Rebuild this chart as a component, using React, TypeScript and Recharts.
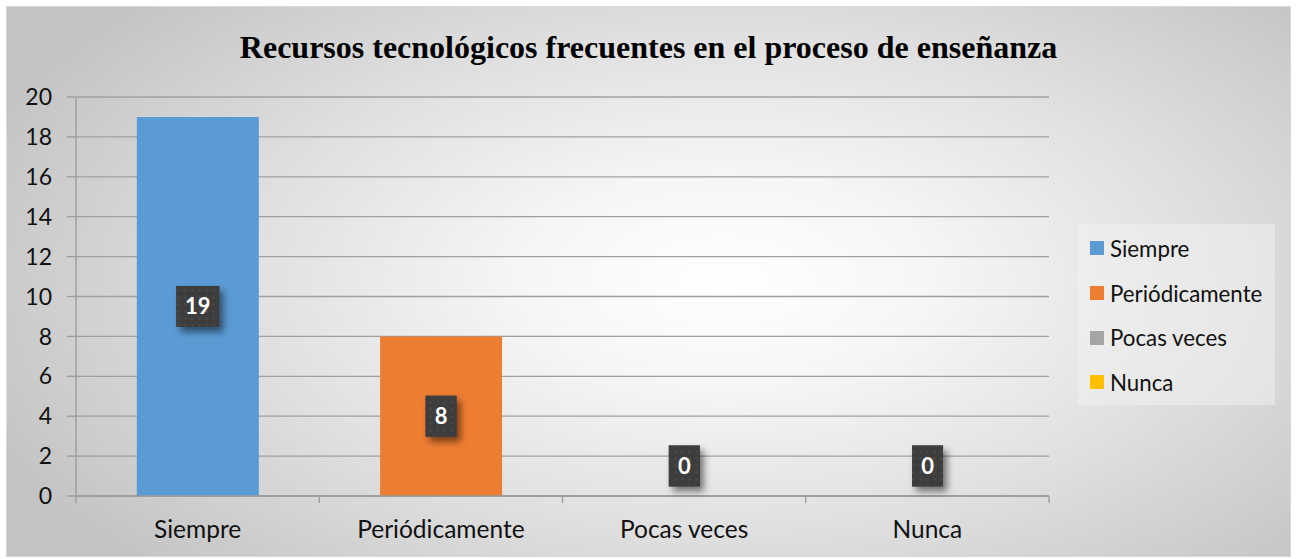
import React from "react";
import { BarChart, Bar, XAxis, YAxis, CartesianGrid, Cell, LabelList, Legend } from "recharts";

const categories = ["Siempre", "Periódicamente", "Pocas veces", "Nunca"];
const values = [19, 8, 0, 0];
const colors = ["#5B9BD5", "#ED7D31", "#A5A5A5", "#FFC000"];
const yTicks = [0, 2, 4, 6, 8, 10, 12, 14, 16, 18, 20];
const title = "Recursos tecnológicos frecuentes en el proceso de enseñanza";

const data = categories.map((name, i) => ({ name, value: values[i] }));

const FONT = "Lato, 'Open Sans', 'Liberation Sans', sans-serif";

const XTick = (props: any) => {
  const { x, y, payload, index } = props;
  const off = payload?.offset ?? 0;
  const last = index === categories.length - 1;
  return (
    <g>
      <line x1={x - off} x2={x - off} y1={y} y2={y + 7} stroke="#9a9a9a" strokeWidth={1.3} />
      {last && <line x1={x + off} x2={x + off} y1={y} y2={y + 7} stroke="#9a9a9a" strokeWidth={1.3} />}
      <text x={x} y={y + 42} textAnchor="middle" fontFamily={FONT} fontSize={24.5} fill="#111">
        {payload.value}
      </text>
    </g>
  );
};

const DataLabel = (props: any) => {
  const vb = props.viewBox || {};
  const x = props.x ?? vb.x;
  const y = props.y ?? vb.y;
  const w = props.width ?? vb.width;
  const h = props.height ?? vb.height;
  const v = props.value;
  const idx = props.index ?? 0;
  const n = String(v).length;
  const bw = 12 * n + 19;
  const bh = 41;
  const cx = x + w / 2;
  const cy = Math.abs(h) < 1 ? y - 30 : y + h / 2;
  const fid = `lblshadow-${idx}`;
  const pid = `lbldots-${idx}`;
  return (
    <g>
      <defs>
        <filter id={fid} x="-50%" y="-50%" width="200%" height="200%">
          <feDropShadow dx={4} dy={5} stdDeviation={3.5} floodColor="#000" floodOpacity={0.5} />
        </filter>
        <pattern id={pid} width={7} height={7} patternUnits="userSpaceOnUse">
          <rect width={7} height={7} fill="#3d3d3d" />
          <circle cx={3.5} cy={3.5} r={1.3} fill="#4a4a4a" />
        </pattern>
      </defs>
      <rect x={cx - bw / 2} y={cy - bh / 2} width={bw} height={bh} fill="#3d3d3d" filter={`url(#${fid})`} />
      <rect x={cx - bw / 2} y={cy - bh / 2} width={bw} height={bh} fill={`url(#${pid})`} />
      <text x={cx} y={cy + 8} textAnchor="middle" fontFamily={FONT} fontWeight="bold" fontSize={22} fill="#fff">
        {v}
      </text>
    </g>
  );
};

const LegendContent = () => (
  <div
    style={{
      width: 197,
      height: 181,
      background: "rgba(240,240,240,0.55)",
      boxSizing: "border-box",
      paddingTop: 2,
      paddingLeft: 12,
    }}
  >
    {categories.map((c, i) => (
      <div key={c} style={{ display: "flex", alignItems: "center", height: 44.7, fontFamily: FONT, fontSize: 22.3, color: "#111", whiteSpace: "nowrap" }}>
        <span style={{ display: "inline-block", width: 14, height: 14, background: colors[i], marginRight: 6, flexShrink: 0 }} />
        <span>{c}</span>
      </div>
    ))}
  </div>
);

export default function App() {
  return (
    <div style={{ position: "absolute", left: 0, top: 0, width: 1298, height: 559, background: "#fff", overflow: "hidden" }}>
      <div
        style={{
          position: "absolute",
          left: 6,
          top: 6,
          width: 1285,
          height: 551,
          boxSizing: "border-box",
          border: "1px solid #d8d8d8",
          background:
            "radial-gradient(ellipse 62% 75% at 56% 50%, #ffffff 0%, #f6f6f6 25%, #e0e0e0 60%, #c4c4c4 100%)",
        }}
      />
      <div
        style={{
          position: "absolute",
          left: 6,
          top: 31,
          width: 1285,
          textAlign: "center",
          fontFamily: "'Liberation Serif', 'Times New Roman', serif",
          fontWeight: "bold",
          fontSize: 32,
          lineHeight: "32px",
          color: "#000",
        }}
      >
        {title}
      </div>
      <div style={{ position: "absolute", left: 0, top: 0 }}>
        <BarChart width={1298} height={559} data={data} margin={{ top: 97, right: 249, bottom: 0, left: 0 }} barCategoryGap="25%">
          <CartesianGrid vertical={false} stroke="#a0a0a0" strokeWidth={1.3} />
          <XAxis
            dataKey="name"
            height={63}
            axisLine={{ stroke: "#9a9a9a", strokeWidth: 1.3 }}
            tickLine={false}
            tickSize={0}
            tickMargin={0}
            tick={<XTick />}
            interval={0}
          />
          <YAxis
            width={76}
            domain={[0, 20]}
            ticks={yTicks}
            interval={0}
            axisLine={{ stroke: "#9a9a9a", strokeWidth: 1.3 }}
            tickLine={{ stroke: "#9a9a9a", strokeWidth: 1.3 }}
            tickSize={9}
            tickMargin={15}
            tick={{ fontFamily: FONT, fontSize: 23, fill: "#111" }}
          />
          <Legend
            layout="vertical"
            align="center"
            verticalAlign="middle"
            content={<LegendContent />}
            wrapperStyle={{ left: 1078, top: 224, width: 197, height: 181 }}
          />
          <Bar dataKey="value" isAnimationActive={false} minPointSize={0.01}>
            {data.map((d, i) => (
              <Cell key={d.name} fill={colors[i]} />
            ))}
            <LabelList dataKey="value" content={<DataLabel />} />
          </Bar>
        </BarChart>
      </div>
    </div>
  );
}
